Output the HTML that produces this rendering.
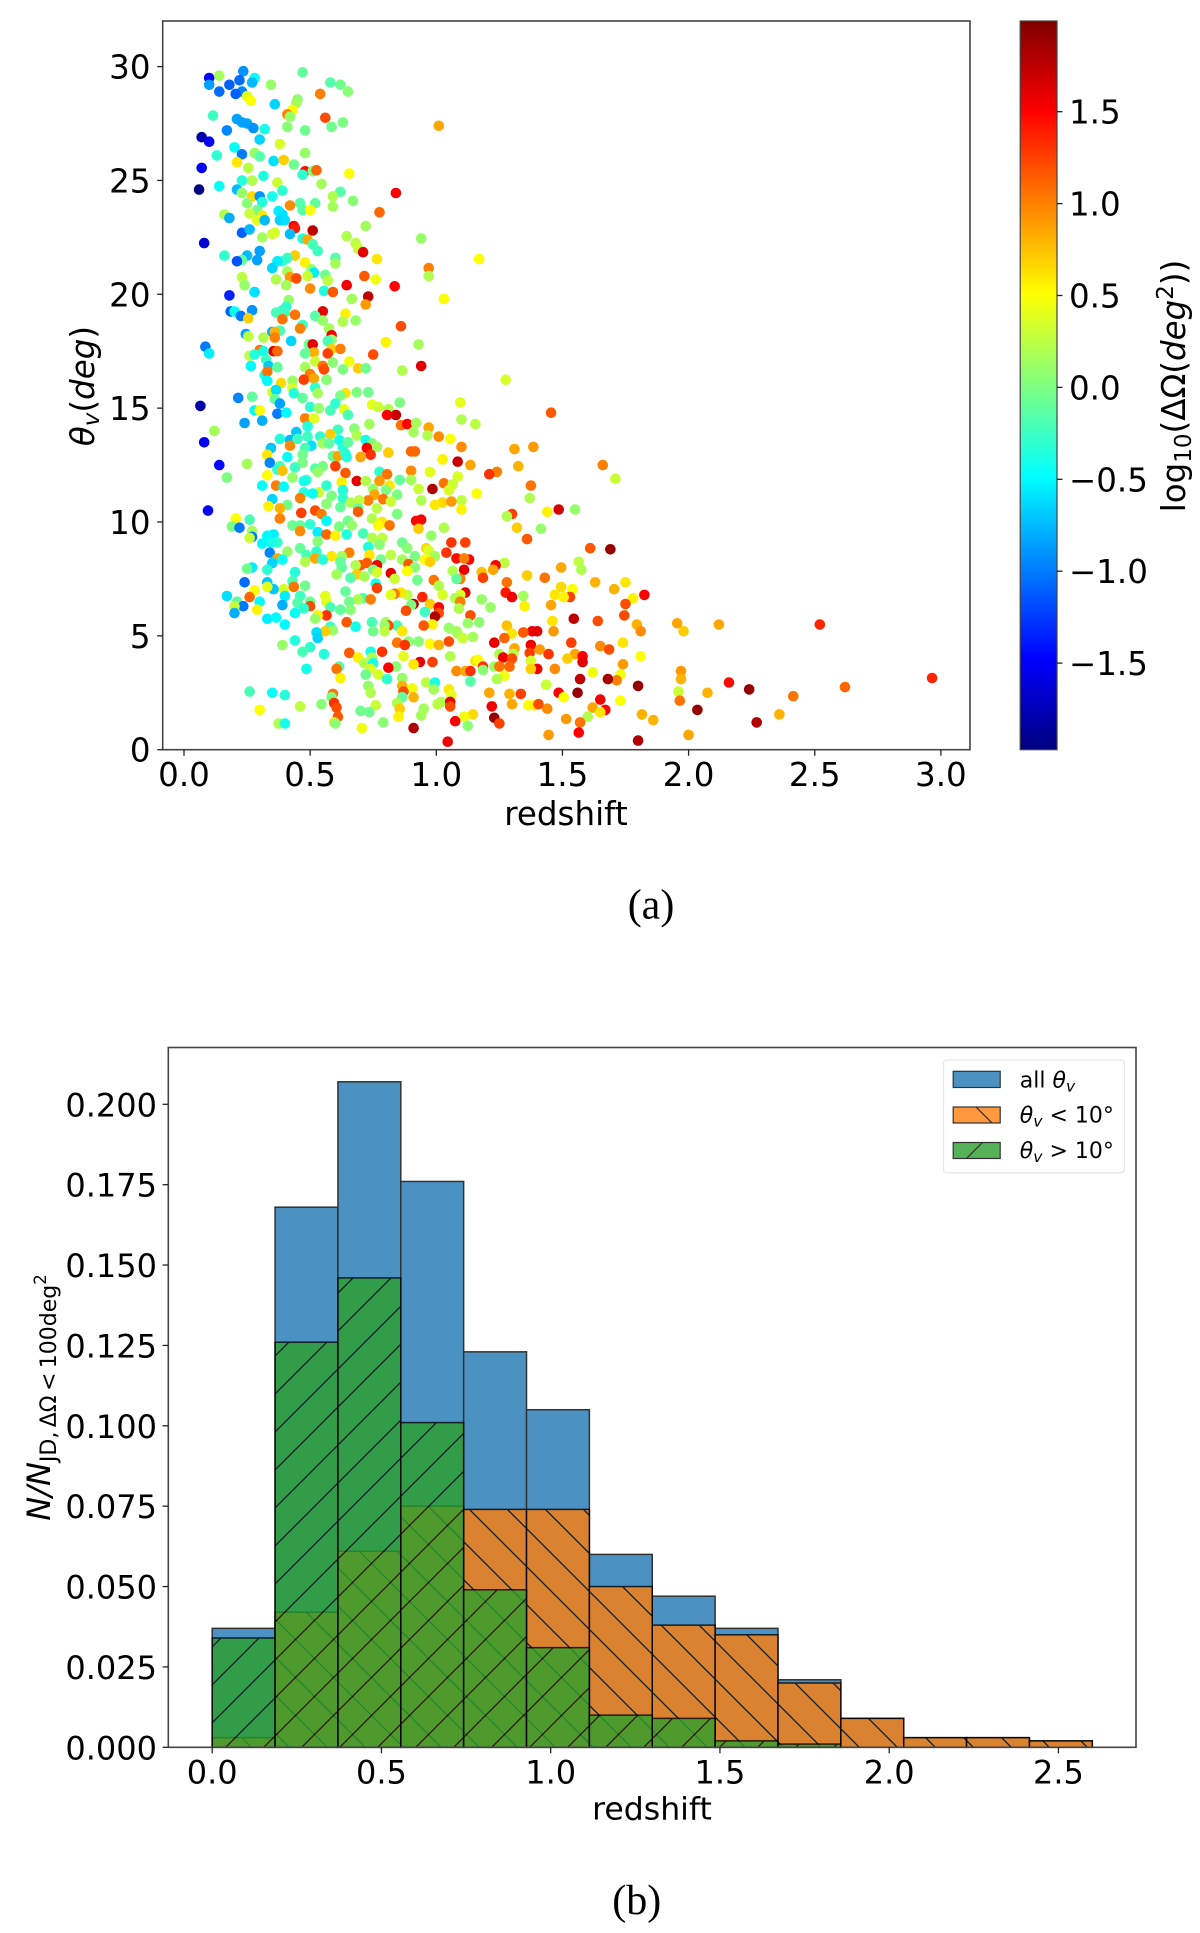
<!DOCTYPE html>
<html lang="en">
<head>
<meta charset="utf-8">
<title>Viewing angle vs redshift and redshift histogram</title>
<style>
html,body{margin:0;padding:0;background:#fff;}
svg{display:block;}
text{font-family:"DejaVu Sans","Liberation Sans",sans-serif;fill:#000;}
.cap{font-family:"Liberation Serif","DejaVu Serif",serif;}
</style>
</head>
<body>
<svg id="fig" xmlns="http://www.w3.org/2000/svg" width="1200" height="1933" viewBox="0 0 1200 1933">
<defs>
<pattern id="hatch-fwd" patternUnits="userSpaceOnUse" width="38" height="38" patternTransform="translate(-3,0)">
<path d="M-4,42L42,-4M-4,4L4,-4M34,42L42,34" stroke="#000" stroke-width="1.3" fill="none"/>
</pattern>
<pattern id="hatch-back" patternUnits="userSpaceOnUse" width="38" height="38" patternTransform="translate(24,0)">
<path d="M-4,-4L42,42M-4,34L4,42M34,-4L42,4" stroke="#000" stroke-width="1.3" fill="none"/>
</pattern>
<pattern id="hatch-back-legend" patternUnits="userSpaceOnUse" width="38" height="38" patternTransform="translate(21,0)">
<path d="M-4,-4L42,42M-4,34L4,42M34,-4L42,4" stroke="#000" stroke-width="1.3" fill="none"/>
</pattern>
<linearGradient id="jet-gradient" x1="0" y1="1" x2="0" y2="0"></linearGradient>
</defs>

<g id="panel-a">
<g id="scatter-points"></g>
<rect x="162.7" y="21" width="807.3" height="728.7" fill="none" stroke="#444" stroke-width="1.6"/>
<g id="a-x-ticks"></g>
<g id="a-y-ticks"></g>
<text x="566" y="825" font-size="32.5" text-anchor="middle">redshift</text>
<text transform="translate(94,386) rotate(-90)" font-size="32.5" text-anchor="middle" font-style="italic">θ<tspan font-size="23" dy="5">v</tspan><tspan font-style="normal" dy="-5">(</tspan>deg<tspan font-style="normal">)</tspan></text>
<rect x="1020.2" y="21" width="36.8" height="728.7" fill="url(#jet-gradient)" stroke="#444" stroke-width="1.2"/>
<g id="colorbar-ticks"></g>
<text transform="translate(1185,386) rotate(-90)" font-size="32.5" text-anchor="middle">log<tspan font-size="23" dy="6">10</tspan><tspan dy="-6">(ΔΩ(</tspan><tspan font-style="italic">deg</tspan><tspan font-size="23" dy="-12">2</tspan><tspan dy="12">))</tspan></text>
<text class="cap" x="651" y="918.5" font-size="42" text-anchor="middle">(a)</text>
</g>

<g id="panel-b">
<g id="hist-bars"></g>
<rect x="168.3" y="1047.5" width="967.7" height="699.8" fill="none" stroke="#444" stroke-width="1.6"/>
<g id="b-x-ticks"></g>
<g id="b-y-ticks"></g>
<text x="652" y="1819.5" font-size="31.5" text-anchor="middle">redshift</text>
<text transform="translate(50,1397.5) rotate(-90)" font-size="32" text-anchor="middle"><tspan font-style="italic">N/N</tspan><tspan font-size="22" dy="6">JD,&#8201;ΔΩ&#8201;&lt;&#8201;100deg</tspan><tspan font-size="16.5" dy="-10">2</tspan></text>
<g>
<rect x="943.5" y="1060" width="180.8" height="112.7" rx="3" fill="#fff" fill-opacity="0.8" stroke="#e6e6e6" stroke-width="1.2"/>
<g opacity="0.8"><rect x="953.2" y="1071.3" width="47" height="16.2" fill="#1f77b4" stroke="#000" stroke-width="1.2"/></g>
<g opacity="0.8"><rect x="953.2" y="1107" width="47" height="16" fill="#ff7f0e"/><rect x="953.2" y="1107" width="47" height="16" fill="url(#hatch-back-legend)" stroke="#000" stroke-width="1.2"/></g>
<g opacity="0.8"><rect x="953.2" y="1142.5" width="47" height="16" fill="#2ca02c"/><rect x="953.2" y="1142.5" width="47" height="16" fill="url(#hatch-fwd)" stroke="#000" stroke-width="1.2"/></g>
<text x="1019.8" y="1087.3" font-size="22">all <tspan font-style="italic">θ</tspan><tspan font-style="italic" font-size="15.5" dy="4">v</tspan></text>
<text x="1019.8" y="1122.7" font-size="22"><tspan font-style="italic">θ</tspan><tspan font-style="italic" font-size="15.5" dy="4">v</tspan><tspan dy="-4"> &lt; 10°</tspan></text>
<text x="1019.8" y="1158" font-size="22"><tspan font-style="italic">θ</tspan><tspan font-style="italic" font-size="15.5" dy="4">v</tspan><tspan dy="-4"> &gt; 10°</tspan></text>
</g>
<text class="cap" x="636.7" y="1914" font-size="42" text-anchor="middle">(b)</text>
</g>
</svg>

<script>
// ---- Panel (a) scatter values: redshift, viewing angle (deg), log10 localisation area ----
const redshift = [
.10,.14,.10,.14,.18,.235,.22,.28,.27,.23,.205,.25,.265,.345,.47,.58,.62,.65,.54,.45,
.445,.36,.43,.41,.42,.115,.56,.21,.23,.25,.275,.63,.585,.41,.32,.48,.17,1.01,.07,.10,
.30,.38,.20,.13,.23,.28,.30,.48,.355,.395,.435,.21,.255,.07,.48,.47,.51,.525,.655,.315,
.23,.27,.37,.545,.14,.21,.06,.23,.39,.27,.30,.35,.62,.59,.84,.25,.31,.46,.52,.67,
.42,.59,.47,.50,.775,.29,.26,.375,.39,.16,.18,.31,.29,.32,.38,.40,.72,.435,.44,.51,
.23,.26,.42,.35,.36,.31,.645,.08,.47,.49,.68,.94,.51,.69,.71,.53,.30,.44,.25,.16,
.60,.23,.21,.29,.41,.39,.37,.765,1.17,.48,.60,.35,.97,.41,.505,.515,.49,.56,.97,.715,
.23,.42,.445,.365,.57,.76,.24,.405,.645,.835,.50,.28,.555,.59,.18,.73,1.03,.665,.415,.72,
.39,.405,.365,.40,.185,.20,.27,.55,.225,.44,.64,.255,.52,.39,.55,.63,.68,.47,.46,.575,
.86,.35,.38,.36,.585,.245,.255,.315,.36,.425,.585,.57,.80,.93,.495,.51,.085,.10,.585,.62,
.30,.355,.37,.315,.515,.57,.48,.75,.26,.28,.325,.52,.59,.655,.55,.335,.37,.265,.48,.94,
.69,.72,.555,.63,.865,.32,.50,.33,.475,.515,.565,.43,.33,1.275,.385,.43,.52,.35,.435,.365,
.685,.73,.64,.62,.53,.215,.27,.47,.36,
.065,.38,.37,.405,.28,.30,.24,.31,.50,.535,.58,.60,.635,.65,.745,.77,.81,.805,.84,.855,
1.095,1.10,1.155,1.455,.48,.515,.49,.735,.86,.885,.92,.97,.91,.12,.61,.675,.685,.445,.58,.49,
.54,.965,1.01,.08,.38,.42,.45,.615,1.055,1.10,.72,.745,.765,.55,.575,.505,.63,.65,.42,.345,
.48,.725,1.31,1.385,.90,.915,.81,.33,.47,.59,.61,.64,.645,.41,.74,.70,1.025,.34,.47,.25,
1.085,.14,1.135,1.325,.38,.60,.55,.44,.37,.52,.53,.39,.90,.975,.775,.33,.64,.805,1.24,1.21,
.17,1.085,.43,.685,.72,.485,.90,.855,.775,.625,.475,1.03,1.065,1.375,.31,.365,.395,.565,.815,.985,
.93,.75,.63,.535,.475,.51,.80,1.05,1.16,.755,.845,.585,.63,1.37,.46,.73,.79,.695,.66,.94,
1.10,.82,.565,1.025,1.06,.35,.995,.41,.335,.38,.62,.765,.69,1.10,1.44,1.485,1.55,.095,.52,.69,
.545,.465,.845,1.30,1.28,.205,.38,.745,.94,.92,.785,.26,.565,.65,.815,.50,.77,.43,.46,.615,
.19,.665,.22,1.32,1.03,.93,1.415,.27,.46,.53,.71,.645,.565,.60,.98,.355,.33,.27,.26,.745,
.785,1.36,.37,.345,.31,.53,.865,1.06,1.115,.775,.73,.885,.46,.96,1.61,.525,.41,.34,.97,1.04,
.655,.82,.485,.995,.625,.585,.735,.915,.52,.55,.37,.39,1.08,1.13,1.11,.865,.955,.975,.48,.78,
1.565,.62,.70,.725,.765,.89,1.27,1.235,.35,1.495,.68,.625,.27,.25,.915,.33,.885,1.225,1.575,.75,
.765,1.11,1.065,1.18,.44,.82,.685,.605,.715,1.36,.66,1.185,.835,1.43,1.095,.99,.925,1.08,.43,1.28,
1.63,.24,.33,.76,1.01,.48,.435,.395,.355,.33,.28,1.495,1.54,.765,1.115,.64,1.275,1.30,1.47,1.345,
1.095,1.025,.885,.86,.835,.82,.945,.56,.46,.17,.40,.26,1.53,1.505,1.075,.71,.69,.74,.565,1.18,
1.095,.655,.21,.30,.50,.45,.91,.975,1.455,1.35,.235,.20,.39,.90,1.01,1.215,1.09,.50,.58,.62,
.475,.66,.29,.88,.20,.44,.955,1.01,1.135,.565,.53,.995,.52,.33,.365,1.545,1.64,1.46,.745,.80,
1.17,1.125,.645,1.28,.985,.95,.845,.81,.795,.40,.68,.58,.59,1.05,1.465,1.38,1.40,1.345,1.30,1.08,
.75,.795,.865,.56,.525,1.085,1.145,.53,1.105,1.27,.39,.44,.845,.89,.93,.875,1.05,.975,1.01,1.23,
1.375,1.535,1.65,1.31,.50,.47,.74,.655,.555,.785,1.41,1.37,1.445,1.55,1.305,1.25,1.055,.87,.69,1.58,
.745,1.265,1.30,1.52,.715,.75,.935,.91,.985,1.155,1.165,1.375,1.58,.84,.81,.615,.605,.485,.74,1.185,
1.23,1.25,1.29,1.40,1.375,1.185,1.08,1.115,1.135,1.47,1.62,.77,.72,1.27,.62,.805,.865,1.24,1.57,1.135,
.96,.995,1.435,.73,.865,.905,.99,1.05,.26,.35,.40,.74,.87,.59,1.21,1.29,1.335,1.485,1.56,1.505,
1.06,.91,1.65,.865,.585,.545,.595,.845,1.02,1.005,1.055,1.055,1.30,1.365,1.39,1.405,1.44,1.22,1.62,.46,
.76,.605,.30,.855,.95,.70,.735,.94,1.145,1.11,.85,.61,1.515,1.23,1.075,1.60,.79,1.57,1.25,1.125,
.595,.60,.375,.40,.705,.91,1.565,1.445,1.045,
1.66,1.71,1.69,1.75,1.705,1.78,1.825,1.75,1.745,1.795,1.81,1.955,1.98,2.12,2.52,1.74,1.685,1.81,1.74,1.97,
1.97,1.73,1.715,1.68,1.80,2.16,2.24,2.965,1.96,2.075,2.62,2.415,1.73,1.965,2.035,1.67,1.65,1.815,1.86,2.36,
2.27,2.0,1.80
];
const thetaV = [
29.5,29.6,29.2,28.9,29.2,29.8,29.4,29.5,29.3,28.9,28.8,28.7,28.5,29.2,29.75,29.3,29.2,28.9,28.8,28.55,
28.4,28.35,28.1,27.9,27.8,27.85,27.75,27.7,27.55,27.5,27.3,27.55,27.35,27.35,27.25,27.2,27.2,27.4,26.9,26.7,
26.8,26.6,26.45,26.1,26.15,26.2,26.05,26.2,25.85,25.9,25.7,25.8,25.55,25.55,25.4,25.25,25.4,25.45,25.3,25.2,
25,25,24.9,24.85,24.75,24.6,24.6,24.45,24.55,24.3,24.3,24.3,24.5,24.3,24.45,24,24.05,24,24,24.1,
23.9,23.85,23.7,23.7,23.6,23.7,23.55,23.65,23.5,23.5,23.35,23.45,23.25,23.25,23.25,23.25,23,23,22.9,22.8,
22.7,22.85,22.65,22.65,22.7,22.5,22.55,22.25,22.45,22.4,22.25,22.45,22.2,22,21.85,21.9,21.9,21.7,21.7,21.7,
21.6,21.5,21.45,21.5,21.6,21.45,21.45,21.55,21.55,21.4,21.35,21.15,21.15,21,21.1,20.95,20.8,20.85,20.8,20.8,
20.75,20.75,20.7,20.65,20.6,20.65,20.4,20.4,20.4,20.35,20.25,20.1,20.15,20.1,19.95,19.9,19.8,19.8,19.75,19.55,
19.3,19.45,19.2,19.2,19.25,19.25,19.3,19.25,19.05,19.1,19.15,18.95,19.05,18.9,18.85,18.8,18.85,18.65,18.5,18.5,
18.6,18.35,18.4,18.35,18.2,18.25,18.15,18.1,18.1,17.95,18,17.95,17.9,17.8,17.8,17.8,17.7,17.4,17.6,17.6,
17.55,17.5,17.5,17.5,17.45,17.4,17.4,17.35,17.3,17.35,17.15,17.05,17,17.05,16.85,16.85,16.8,16.85,16.8,16.85,
16.75,16.75,16.7,16.7,16.65,16.45,16.5,16.6,16.25,16.3,16.25,16.2,16.2,16.25,16.1,15.9,15.9,15.7,15.65,15.8,
15.7,15.7,15.65,15.55,15.65,15.45,15.5,15.45,15.4,
15.1,15.2,14.75,14.8,14.9,14.9,14.35,14.45,15.05,15,14.9,15.2,14.95,14.7,15.15,15.05,14.95,14.7,14.7,15.25,
15.25,14.5,14.3,14.8,14.55,14.55,14.2,14.3,14.25,14.3,14.35,14.15,13.95,14,14.05,14.1,13.8,13.95,13.85,13.75,
13.75,13.8,13.75,13.5,13.65,13.6,13.65,13.6,13.65,13.3,13.6,13.45,13.3,13.45,13.45,13.35,13.3,13.5,13.35,13.25,
13.25,13.25,13.2,13.3,13.1,13.1,13.05,12.95,12.95,12.9,12.9,13,12.85,12.85,12.95,12.85,12.75,12.6,12.6,12.55,
12.65,12.5,12.5,12.45,12.45,12.45,12.45,12.4,12.3,12.35,12.2,12.25,12.25,12.2,12.2,12.05,12.15,12.1,12.2,12.1,
11.95,12,11.95,11.8,11.8,11.85,11.85,11.85,11.8,11.75,11.8,11.7,11.65,11.6,11.6,11.6,11.55,11.6,11.6,11.45,
11.45,11.45,11.4,11.3,11.3,11.25,11.4,11.4,11.25,11.2,11.2,11.15,11.05,11.05,11.05,10.95,11,10.95,10.85,10.95,
10.95,10.9,10.8,10.85,10.9,11,10.75,10.75,10.7,10.6,10.65,10.6,10.6,10.55,10.45,10.55,10.55,10.5,10.5,10.45,
10.35,10.4,10.35,10.35,10.25,10.15,10.15,10.15,10.1,10.05,10,10.1,10.05,10.05,9.85,9.9,9.85,9.85,9.85,9.8,
9.8,9.85,9.75,9.75,9.75,9.7,9.7,9.6,9.6,9.55,9.5,9.45,9.45,9.4,9.4,9.45,9.4,9.35,9.3,9.3,
9.3,9.25,9.1,9.1,9.05,9.15,9.1,9.1,9.1,9,8.9,8.85,8.85,8.85,8.85,8.7,8.7,8.65,8.75,8.65,
8.65,8.55,8.55,8.5,8.5,8.5,8.55,8.5,8.4,8.35,8.4,8.35,8.4,8.35,8.4,8.35,8.35,8.25,8.25,8.35,
8.25,8.25,8.1,8.2,8.1,8.15,8.2,8.1,8.2,8,8.1,8,8,7.95,8,7.9,7.85,7.9,7.9,7.9,
7.8,7.9,7.85,7.8,7.8,7.75,7.7,7.7,7.6,7.65,7.55,7.55,7.5,7.55,7.5,7.45,7.45,7.5,7.4,7.35,
7.35,7.35,7.35,7.3,7.2,7.2,7.15,7.05,7.05,7.15,7,7.15,7.05,7.1,6.9,6.95,6.9,6.7,6.8,6.75,
6.8,6.8,6.8,6.9,6.85,6.8,6.7,6.75,6.75,6.75,6.75,6.7,6.7,6.7,6.65,6.65,6.6,6.6,6.5,6.6,
6.5,6.5,6.5,6.5,6.5,6.45,6.4,6.4,6.35,6.3,6.3,6.3,6.35,6.35,6.25,6.25,6.2,6.3,6.25,6.15,
6.2,6.15,6.15,6.1,6,6,6.05,6,5.9,5.9,5.9,5.85,5.75,5.75,5.8,5.75,5.65,5.65,5.6,5.6,
5.6,5.55,5.6,5.45,5.5,5.45,5.45,5.45,5.45,5.5,5.4,5.4,5.25,5.35,5.2,5.2,5.2,5.15,5.1,5.2,
5.2,5.2,5.2,5.2,5.15,5.1,4.95,4.9,4.9,4.9,4.6,4.8,4.7,4.75,4.75,4.6,4.75,4.65,4.6,4.7,
4.6,4.7,4.55,4.45,4.5,4.3,4.3,4.25,4.2,4.3,4.4,4.25,4.2,4.2,4.2,4.2,4.1,4.1,4.05,4.1,
4.05,4.05,4,4,3.8,3.8,3.85,3.75,3.85,3.9,3.95,3.9,3.85,3.65,3.6,3.65,3.55,3.55,3.55,3.65,
3.65,3.65,3.65,3.55,3.55,3.5,3.45,3.45,3.45,3.55,3.4,3.3,3.3,3.25,3.15,3.1,3.15,3.1,3.1,3,
2.95,2.95,2.85,2.8,2.8,2.7,2.65,2.65,2.55,2.5,2.4,2.5,2.55,2.45,2.5,2.45,2.45,2.5,2.5,2.3,
2.4,2.3,2.2,2.3,2.3,2,2.05,2.05,2.1,2,2.1,1.9,2,1.95,1.95,2,1.8,1.9,1.85,1.9,
1.95,1.85,1.75,1.8,1.8,1.7,1.65,1.5,1.55,1.45,1.45,1.45,1.35,1.4,1.25,1.45,1.2,1.2,1.15,1.05,
1.2,1.15,1.15,1.15,.95,.95,.75,.65,.35,
12.5,11.9,8.8,7.35,7.05,6.65,6.8,6.4,5.9,5.5,5.2,5.55,5.2,5.5,5.5,4.7,4.4,4.1,3.75,3.45,
3.1,3.3,3.05,3.1,2.8,2.95,2.65,3.15,2.55,2.5,2.75,2.35,2.15,2.15,1.75,1.75,1.65,1.55,1.3,1.55,
1.2,.65,.4
];
const logArea = [
-1.45,.15,-.85,-1.05,-1.1,-.9,-1.05,-.45,-.75,-.95,-1.1,.4,.5,.1,-.1,-.15,-.05,.05,1,.05,
.15,-.65,.5,1,.1,-.25,1.2,-.85,-.85,-.85,-.9,0,-.05,.05,-.4,-.05,-.95,.85,-1.8,-1.5,
-.65,.35,-.45,-.3,-1,.1,-.15,.1,-.6,.7,-.05,.6,.25,-1.5,1.45,-.3,0,1.1,.5,-.35,
-.35,.2,.3,.15,-.45,-.75,-1.95,.1,-.3,.65,-.9,-.4,-.15,.2,1.5,.05,-.35,-.15,-.1,.05,
.95,.15,-.15,.5,1.1,-.05,.3,-.55,-.6,.2,-.8,.6,.4,-.75,-.65,-.6,.15,1.5,1.4,1.75,
-1.1,-.75,-.75,.3,.35,.15,.2,-1.65,-.35,.85,.25,.1,-.2,.3,1.6,-.25,-.85,.7,-.75,-.3,
-.15,-.1,-1.15,-.85,-.25,-.3,-.55,.6,.5,.55,.15,-.65,1,.15,.1,-.55,.3,-.05,.2,1.15,
.25,.9,1.2,.2,.25,.45,.1,.15,1.55,1.5,.95,-.6,-.35,1.15,-1.35,1.75,.5,.15,.1,.9,
-.25,-.3,-.2,-.25,-1.1,-.45,-.9,1.6,-1,1.05,.55,.7,-.15,1.05,.1,.2,.1,-.25,1,.15,
1.2,-.8,-.2,.8,1.55,-.85,.25,.2,1,-.65,.1,-.2,.55,.15,-.05,1.6,-1,-.55,.7,1,
1.05,1.6,1.1,-.4,.8,1.25,-.1,1.2,.25,-.35,-.25,.3,.05,.45,1.05,-.7,-.1,-.5,.15,1.6,
.7,-.05,1.2,0,.2,-.4,1,1.05,1.25,.85,.05,.1,-.5,.35,.65,.35,-.3,.35,-.35,-.6,
0,-.05,.6,0,.15,-.95,-.1,-.1,-.1,
-1.8,-.85,-1,-.5,-.5,.5,-.85,-.8,-.3,.1,-.2,-.3,.4,-.2,.4,.3,.2,1.5,1.7,0,
.4,.2,.25,1.15,1,.4,-.35,.15,1.05,1.5,.15,.85,.15,.15,-.25,.05,.2,-.7,.7,-.25,
-.3,.2,.95,-1.55,-.35,-.75,-.25,-.4,.5,.95,-.4,0,.15,.15,-.1,-.6,-.35,-.1,.95,-.7,
-.2,1.5,.85,.9,1.1,1.1,.7,.6,-.05,-.1,.85,-.3,-.35,-.45,1.3,.85,.55,-.95,0,.15,
1.7,-1.45,.85,.8,-.2,1.25,0,-.25,-.3,-.15,.1,.75,.95,.4,-.3,.5,1.15,1.05,1,1.3,
0,.35,.1,1.6,.2,-.25,.15,-.1,.9,.55,-.4,1.05,.3,1.05,-.45,1,-.5,-.3,.6,1.8,
.3,.1,-.35,.3,-.35,-.45,0,.35,.5,.85,0,0,-.3,.2,1,1,1.05,.25,.2,.2,
.25,.3,.05,.65,.9,-.65,.6,-.05,.55,.8,-.1,.25,-.1,.55,.55,1.65,.1,-1.5,1.2,1.15,
1,1.25,0,1.25,.2,.5,1,.2,1.5,1.5,.6,-.2,-.5,-.05,1.05,-.3,.5,-.05,-.1,0,
0,.1,-1,.7,.2,.7,.1,.15,.95,-.55,-.2,-.35,1.1,.55,.1,-.55,-.5,-1,.3,.2,
.25,1.15,-.3,-.4,-.5,.05,-.05,1.3,1.25,.05,-.35,.05,-.1,.65,1.15,-.3,.1,-.95,.35,1.3,
1,.25,-.2,.15,.15,.6,.6,0,.85,-.35,.85,-.45,1.45,1.5,1,.15,.5,.7,.2,-.05,
.25,-.1,1.15,1.15,1.55,1.15,.25,1.5,-.65,.85,.2,-.1,-.55,-.05,.05,-.3,.5,.85,.2,-.05,
.35,1.6,.2,.75,-.35,1.6,.7,.15,.15,.7,-.15,1.25,.3,1.05,1,1.05,-.05,-.1,-.2,1.05,
.8,-1.05,-.7,-.4,.2,-.05,1.05,.35,-.7,.4,.5,.65,.5,1.25,1.6,-.1,1.4,1.55,.6,.15,
.35,.35,.25,.6,1,.4,1.35,.4,-.25,-.6,-.55,1.1,1.25,.55,.2,-.2,.2,1,.4,.1,
1,-.05,-.1,-.5,-.05,-.15,1.8,.7,.85,.55,-1,.3,-.8,0,1.5,.1,.2,1.2,-.2,-.1,
-.3,.05,.55,1.2,-.8,-.45,-.25,1.2,1.2,1.3,.55,1.8,.1,-.55,-.5,1.75,1.2,.6,-.2,.15,
.05,.1,1.15,.75,.55,1.15,-.2,1.2,.1,-.5,-.4,-.25,.1,.1,.9,1.55,1.6,1.15,.6,.15,
-.05,.25,.6,.7,-.6,.15,.15,-.65,.3,1.1,.1,-.35,1.05,.05,.05,1.3,1.2,.5,.8,1.6,
1.55,1.25,.95,.85,-.3,-.2,-.4,1.15,-.35,1.3,.9,1.25,1.3,.85,.25,.2,.2,.4,.55,1.5,
.2,1.55,1.2,.7,.2,-.4,1.6,.6,1.25,.6,.5,.35,1.6,.05,1.5,-.15,1.05,-.4,.35,1.3,
.1,1.05,1.1,1.55,.7,.05,.95,.85,1.3,.95,.45,.35,-.05,.45,.55,-.3,.1,.2,1.75,-.15,
.25,-.4,.3,.1,.8,.45,.15,.6,-.2,-.45,-.35,.2,1.2,1.05,.85,.8,1.25,1.5,1.9,.5,
.4,.8,1.55,-.1,0,.05,1.3,.2,.2,.25,1.6,1.2,.85,.5,.55,1.2,.95,1.55,.85,.25,
.3,1.2,.5,.7,.15,-.05,-.05,.15,.65,.45,.55,1.15,.9,1.9,1.5,.2,.05,1.05,1.25,.05,
.6,.05,.2,-.4,.45,1.8,1.5,.9,1.55,
1,.3,1.9,.6,.8,.55,1.5,1.2,1.2,.8,.95,.85,.7,.85,1.35,.6,1.2,.5,.9,.9,
.8,.45,1,1.85,1.9,1.45,1.9,1.35,.3,.8,1.1,1.05,.5,1.05,1.9,1.5,.6,.8,.8,.8,
1.8,.85,1.8
];
const scatterXTicks = [0, 0.5, 1, 1.5, 2, 2.5, 3];
const scatterXTickLabels = ["0.0", "0.5", "1.0", "1.5", "2.0", "2.5", "3.0"];
const scatterYTicks = [0, 5, 10, 15, 20, 25, 30];
const scatterYTickLabels = ["0", "5", "10", "15", "20", "25", "30"];
const colorbarTicks = [-1.5, -1, -0.5, 0, 0.5, 1, 1.5];
const colorbarTickLabels = ["\u22121.5", "\u22121.0", "\u22120.5", "0.0", "0.5", "1.0", "1.5"];

// ---- Panel (b) histogram values ----
const binCount = 14;
const binMax = 2.6;
const allFractions = [.037,.168,.207,.176,.123,.105,.060,.047,.037,.021,.009,.003,.003,.002];
const lowAngleFractions = [.003,.042,.061,.075,.074,.074,.050,.038,.035,.020,.009,.003,.003,.002];
const highAngleFractions = [.034,.126,.146,.101,.049,.031,.010,.009,.002,.001,0,0,0,0];
const histXTicks = [0, 0.5, 1, 1.5, 2, 2.5];
const histXTickLabels = ["0.0", "0.5", "1.0", "1.5", "2.0", "2.5"];
const histYTicks = [0, 0.025, 0.05, 0.075, 0.1, 0.125, 0.15, 0.175, 0.2];
const histYTickLabels = ["0.000", "0.025", "0.050", "0.075", "0.100", "0.125", "0.150", "0.175", "0.200"];

const NS = "http://www.w3.org/2000/svg";
function mk(tag, attrs, parent) {
  const el = document.createElementNS(NS, tag);
  for (const k in attrs) el.setAttribute(k, attrs[k]);
  parent.appendChild(el);
  return el;
}
const clip01 = v => Math.max(0, Math.min(1, v));
function jet(t) {
  const r = clip01(Math.min(4 * t - 1.5, -4 * t + 4.5));
  const g = clip01(Math.min(4 * t - 0.5, -4 * t + 3.5));
  const b = clip01(Math.min(4 * t + 0.5, -4 * t + 2.5));
  return "rgb(" + Math.round(r * 255) + "," + Math.round(g * 255) + "," + Math.round(b * 255) + ")";
}
const colorMin = -1.97, colorMax = 1.99;
const colorOf = v => jet((v - colorMin) / (colorMax - colorMin));

const xA = z => 184 + 252.3 * z;
const yA = t => 749.7 - 22.77 * t;
const yBar = v => 387.4 - 183.8 * v;
const xB = z => 212.2 + 338.5 * z;
const yB = f => 1747.3 - 3215 * f;

// colourbar gradient
const grad = document.getElementById("jet-gradient");
for (let i = 0; i <= 64; i++) {
  mk("stop", {offset: (i / 64), "stop-color": jet(i / 64)}, grad);
}

// scatter
const pointsGroup = document.getElementById("scatter-points");
redshift.forEach((z, i) => {
  const c = mk("circle", {cx: xA(z).toFixed(1), cy: yA(thetaV[i]).toFixed(1), r: 5.3, fill: colorOf(logArea[i])}, pointsGroup);
  
  
});

// axis ticks panel a
const aX = document.getElementById("a-x-ticks");
scatterXTicks.forEach((v, i) => {
  const l = mk("line", {x1: xA(v), x2: xA(v), y1: 749.7, y2: 755.7, stroke: "#222", "stroke-width": 1.3}, aX);
  
  
  const t = mk("text", {x: xA(v), y: 786, "font-size": 32.5, "text-anchor": "middle"}, aX);
  
  
  t.textContent = scatterXTickLabels[i];
});
const aY = document.getElementById("a-y-ticks");
scatterYTicks.forEach((v, i) => {
  const l = mk("line", {x1: 157.2, x2: 162.7, y1: yA(v), y2: yA(v), stroke: "#222", "stroke-width": 1.3}, aY);
  
  
  const t = mk("text", {x: 150.5, y: yA(v) + 12, "font-size": 32.5, "text-anchor": "end"}, aY);
  
  
  t.textContent = scatterYTickLabels[i];
});
const cb = document.getElementById("colorbar-ticks");
colorbarTicks.forEach((v, i) => {
  const l = mk("line", {x1: 1057, x2: 1062.5, y1: yBar(v), y2: yBar(v), stroke: "#222", "stroke-width": 1.3}, cb);
  
  
  const t = mk("text", {x: 1069, y: yBar(v) + 12, "font-size": 32.5}, cb);
  
  
  t.textContent = colorbarTickLabels[i];
});

// histogram
const binWidth = binMax / binCount;
const barsGroup = document.getElementById("hist-bars");
function drawSeries(values, fill, hatch, name) {
  const g = mk("g", {opacity: 0.8}, barsGroup);
  
  
  values.forEach((v, i) => {
    if (v <= 0) return;
    const x = xB(i * binWidth), w = xB((i + 1) * binWidth) - x, y = yB(v), h = yB(0) - y;
    const bar = mk("rect", {x: x, y: y, width: w, height: h, fill: fill}, g);
    
    
    const over = mk("rect", {x: x, y: y, width: w, height: h, fill: hatch ? "url(#" + hatch + ")" : "none", stroke: "#000", "stroke-width": 1.5}, g);
    
    
  });
}
drawSeries(allFractions, "#1f77b4", null, "bars-all-angles");
drawSeries(lowAngleFractions, "#ff7f0e", "hatch-back", "bars-below-10-deg");
drawSeries(highAngleFractions, "#2ca02c", "hatch-fwd", "bars-above-10-deg");

const bX = document.getElementById("b-x-ticks");
histXTicks.forEach((v, i) => {
  const l = mk("line", {x1: xB(v), x2: xB(v), y1: 1747.3, y2: 1753.3, stroke: "#222", "stroke-width": 1.3}, bX);
  
  
  const t = mk("text", {x: xB(v), y: 1783.5, "font-size": 32, "text-anchor": "middle"}, bX);
  
  
  t.textContent = histXTickLabels[i];
});
const bY = document.getElementById("b-y-ticks");
histYTicks.forEach((v, i) => {
  const l = mk("line", {x1: 162.6, x2: 168.3, y1: yB(v), y2: yB(v), stroke: "#222", "stroke-width": 1.3}, bY);
  
  
  const t = mk("text", {x: 157, y: yB(v) + 12, "font-size": 32, "text-anchor": "end"}, bY);
  
  
  t.textContent = histYTickLabels[i];
});
</script>
</body>
</html>
